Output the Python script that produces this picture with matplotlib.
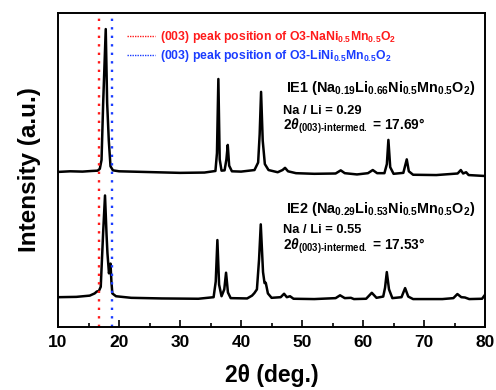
import matplotlib
matplotlib.use("Agg")
import matplotlib.pyplot as plt
from matplotlib.lines import Line2D
from matplotlib.ticker import MultipleLocator

plt.rcParams['font.family'] = ['Liberation Sans', 'DejaVu Sans']
plt.rcParams['font.weight'] = 'bold'
plt.rcParams['mathtext.fontset'] = 'custom'
plt.rcParams['mathtext.rm'] = 'Liberation Sans:bold'
plt.rcParams['mathtext.bf'] = 'Liberation Sans:bold'
plt.rcParams['mathtext.it'] = 'Liberation Sans:bold:italic'
plt.rcParams['mathtext.sf'] = 'Liberation Sans:bold'

# ---- data ----
ie1_2theta = [10, 12, 14, 15.5, 16.5, 16.85, 17.13, 17.4, 17.82, 18.05, 18.32, 18.6, 19.0,
              20, 24, 30, 34, 35.8, 36.05, 36.28, 36.5, 36.8, 37.3, 37.6, 37.82, 38.05,
              38.5, 40, 42.2, 42.8, 43.05, 43.28, 43.55, 43.9, 44.5, 46, 46.8, 47.21,
              47.7, 49, 52, 55.5, 56.34, 57, 59, 60.8, 61.59, 62.3, 63.5, 63.9, 64.15,
              64.45, 65, 66.6, 67.16, 67.5, 68.2, 72, 75.5, 76.02, 76.4, 76.89, 77.3, 80]
ie1_int = [0.0, 0.2, 0.1, 0.3, 0.4, 1.0, 3.8, 22, 45.5, 22, 10, 1.8, 0.5,
           0.2, 0.0, -0.3, -0.2, 0.3, 6, 29.6, 4, 0.4, 0.5, 4, 8.6, 2,
           0.2, 0.1, 0.6, 3, 12, 25.5, 10, 2.5, 0.6, -0.1, 0.6, 1.3,
           0.2, -0.4, -0.6, -0.5, 0.5, -0.4, -0.8, -0.4, 0.6, -0.4, -0.4, 2.5, 10.2,
           1.5, -0.6, -0.3, 4.0, 0.2, -0.9, -1.0, -0.5, 0.6, -0.5, -0.1, -1.0, -1.3]

ie2_2theta = [10, 13, 15.2, 16.0, 16.35, 16.7, 17.0, 17.39, 17.70, 17.95, 18.1, 18.35, 18.6,
              18.75, 18.9, 19.5, 22, 27, 33, 35.5, 35.85, 36.12, 36.4, 36.8, 37.25, 37.54,
              37.85, 38.3, 41, 41.8, 42.18, 42.6, 42.95, 43.23, 43.6, 43.85, 44.05, 44.4,
              45, 46.5, 47.05, 47.5, 48.03, 48.6, 52, 55.5, 56.23, 57, 58.0, 58.5, 60.5,
              61.43, 62.2, 63.3, 63.6, 63.89, 64.25, 64.8, 66.3, 66.89, 67.4, 68.2, 73,
              74.8, 75.46, 76.1, 76.7, 77.4, 79.5, 80]
ie2_int = [0.0, 0.1, 0.5, 1.2, 1.8, 2.0, 3.3, 20.4, 32.4, 20, 14, 7.6, 10.7,
           5, 1.2, 0.3, -0.2, -0.4, -0.5, 0.0, 5, 18.2, 4, 0.3, 2.5, 7.8,
           1.5, -0.3, -0.4, 0.5, 1.3, 2.5, 12, 23.2, 8, 4.5, 4.6, 1.2,
           -0.2, 0, 1.1, 0.0, 0.3, -0.5, -0.6, -0.3, 0.6, -0.3, -0.2, -0.6, -0.5,
           1.4, -0.2, 0.2, 3, 8.0, 2.5, -0.3, 0, 2.9, 0.2, -0.6, -0.6,
           -0.3, 1.0, 0.0, -0.1, -0.6, -0.5, 0.8]

ie1_offset = 49.4
ie2_offset = 9.5

ref_positions = [16.65, 18.77]
ref_colors = ['#ff1a1a', '#1a3cff']
ref_labels = [r'(003) peak position of O3-NaNi$_{0.5}$Mn$_{0.5}$O$_2$',
              r'(003) peak position of O3-LiNi$_{0.5}$Mn$_{0.5}$O$_2$']

x_ticks = [10, 20, 30, 40, 50, 60, 70, 80]

# ---- figure ----
fig = plt.figure(figsize=(4.96, 3.90), dpi=100)
ax = fig.add_axes([0.117, 0.1615, 0.861, 0.805])

ax.plot(ie1_2theta, [v + ie1_offset for v in ie1_int], color='black', lw=1.8)
ax.plot(ie2_2theta, [v + ie2_offset for v in ie2_int], color='black', lw=1.8)

for pos, col in zip(ref_positions, ref_colors):
    ax.axvline(pos, color=col, lw=1.7, linestyle=(0, (1, 2.6)))

ax.set_xlim(10, 80)
ax.set_ylim(0, 100)
ax.set_xticks(x_ticks)
ax.xaxis.set_minor_locator(MultipleLocator(5))
ax.set_yticks([])
ax.tick_params(axis='x', which='both', direction='in', top=False, labelsize=12.5, width=1.2)
ax.tick_params(axis='x', which='major', length=5, pad=6)
ax.tick_params(axis='x', which='minor', length=3)
for lbl in ax.get_xticklabels():
    lbl.set_fontweight('bold')
for sp in ax.spines.values():
    sp.set_linewidth(1.4)

ax.set_xlabel('2θ (deg.)', fontsize=16.5, fontweight='bold', labelpad=10)
ax.set_ylabel('Intensity (a.u.)', fontsize=17.5, fontweight='bold', labelpad=12)

handles = [Line2D([], [], color=c, lw=1.0, linestyle=(0, (1, 0.8))) for c in ref_colors]
leg = ax.legend(handles, ref_labels, loc='upper left', bbox_to_anchor=(0.162, 0.948),
                frameon=False, handlelength=2.3, handletextpad=0.4, labelspacing=0.25,
                borderpad=0, borderaxespad=0, prop={'size': 8.8, 'weight': 'bold'})
for t, c in zip(leg.get_texts(), ref_colors):
    t.set_color(c)

tx = 0.526
ax.text(tx + 0.008, 0.748, r'IE1 (Na$_{0.19}$Li$_{0.66}$Ni$_{0.5}$Mn$_{0.5}$O$_2$)',
        transform=ax.transAxes, fontsize=10.4, fontweight='bold', va='baseline')
ax.text(tx, 0.680, 'Na / Li = 0.29', transform=ax.transAxes, fontsize=9.3,
        fontweight='bold', va='baseline')
ax.text(tx, 0.630, '2$\\theta_{\\mathrm{(003)\u2010intermed.}}$ = 17.69°', transform=ax.transAxes,
        fontsize=9.8, fontweight='bold', va='baseline')

ax.text(tx + 0.008, 0.364, r'IE2 (Na$_{0.29}$Li$_{0.53}$Ni$_{0.5}$Mn$_{0.5}$O$_2$)',
        transform=ax.transAxes, fontsize=10.4, fontweight='bold', va='baseline')
ax.text(tx, 0.298, 'Na / Li = 0.55', transform=ax.transAxes, fontsize=9.3,
        fontweight='bold', va='baseline')
ax.text(tx, 0.248, '2$\\theta_{\\mathrm{(003)\u2010intermed.}}$ = 17.53°', transform=ax.transAxes,
        fontsize=9.8, fontweight='bold', va='baseline')

fig.savefig('out.png', dpi=100)
